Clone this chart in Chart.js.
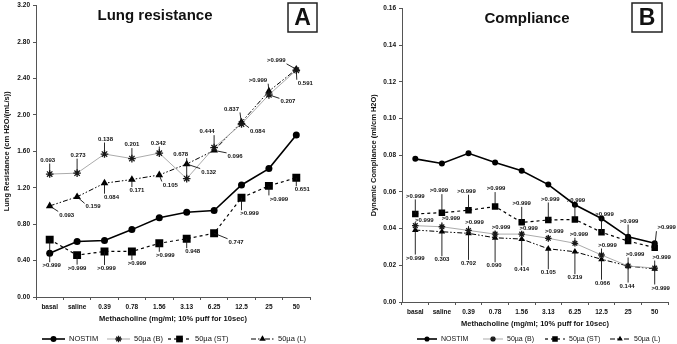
<!DOCTYPE html>
<html>
<head>
<meta charset="utf-8">
<script src="https://cdn.jsdelivr.net/npm/chart.js@4.4.1/dist/chart.umd.min.js"></script>
<style>
  html, body { margin: 0; padding: 0; background: #fff; }
  #wrap { position: relative; width: 677px; height: 344px; }
  canvas { position: absolute; top: 0; }
</style>
</head>
<body>
<div id="wrap">
  <canvas id="chartA" width="340" height="344" style="left:0"></canvas>
  <canvas id="chartB" width="337" height="344" style="left:340px"></canvas>
</div>
<script>
// Doses de méthacholine (axe X)
const doses = ["basal", "saline", "0.39", "0.78", "1.56", "3.13", "6.25", "12.5", "25", "50"];
const seriesNames = ["NOSTIM", "50µa (B)", "50µa (ST)", "50µa (L)"];

// Résistance pulmonaire (panneau A)
const resNostim = [0.48, 0.61, 0.62, 0.74, 0.87, 0.93, 0.95, 1.23, 1.41, 1.78];
const resB = [1.35, 1.36, 1.57, 1.52, 1.58, 1.30, 1.64, 1.90, 2.22, 2.49];
const resST = [0.63, 0.46, 0.50, 0.50, 0.59, 0.64, 0.70, 1.09, 1.22, 1.31];
const resL = [1.00, 1.10, 1.25, 1.29, 1.34, 1.46, 1.61, 1.92, 2.26, 2.50];

// Compliance dynamique (panneau B)
const compNostim = [0.078, 0.0755, 0.081, 0.076, 0.0715, 0.064, 0.053, 0.0455, 0.0355, 0.032];
const compB = [0.0416, 0.041, 0.039, 0.037, 0.037, 0.0347, 0.032, 0.0256, 0.0196, 0.0185];
const compST = [0.048, 0.0487, 0.050, 0.052, 0.0434, 0.0447, 0.045, 0.038, 0.0332, 0.0296];
const compL = [0.0392, 0.0383, 0.0374, 0.035, 0.0343, 0.029, 0.0274, 0.0233, 0.0196, 0.018];

// Valeurs p affichées à côté des points
const pResB = ["0.093", "0.273", "0.138", "0.201", "0.342", "0.678", "0.444", "0.837", "0.207", "0.591"];
const pResST = [">0.999", ">0.999", ">0.999", ">0.999", ">0.999", "0.948", "0.747", ">0.999", ">0.999", "0.651"];
const pResL = ["0.093", "0.159", "0.084", "0.171", "0.105", "0.132", "0.096", "0.084", ">0.999", ">0.999"];
const pCompB = [">0.999", ">0.999", ">0.999", ">0.999", ">0.999", ">0.999", ">0.999", ">0.999", ">0.999", ">0.999"];
const pCompST = [">0.999", ">0.999", ">0.999", ">0.999", ">0.999", ">0.999", ">0.999", ">0.999", ">0.999", ">0.999"];
const pCompL = [">0.999", "0.303", "0.702", "0.090", "0.414", "0.105", "0.219", "0.066", "0.144", ">0.999"];

// Décalages (px) des étiquettes par rapport aux points
const offResB = [[-2, -14], [1, -18], [1, -15], [0, -14], [-1, -10], [-6, -24], [-7, -16], [-10, -15], [19, 7], [9, 13]];
const offResST = [[2, 26], [0, 13], [2, 17], [5, 12], [6, 12], [6, 13], [22, 9], [8, 16], [10, 13], [6, 12]];
const offResL = [[17, 9], [16, 10], [7, 14], [5, 11], [11, 10], [22, 8], [21, 6], [16, 9], [-11, -11], [-20, -9]];
const offCompB = [[9, -5], [9, -8], [6, -8], [6, -7], [7, -6], [6, -7], [4, -9], [6, -10], [7, -12], [7, -11]];
const offCompST = [[0, -18], [-3, -22], [-2, -19], [1, -18], [0, -19], [2, -21], [1, -19], [3, -18], [1, -20], [12, -20]];
const offCompL = [[0, 28], [0, 28], [0, 30], [-1, 28], [0, 30], [0, 24], [0, 26], [1, 24], [-1, 20], [6, 19]];

const FONT = "'Liberation Sans', Arial, sans-serif";

// Styles des séries
const makeDatasets = (values, big) => [
  {
    label: seriesNames[0], data: values[0],
    borderColor: "#000", backgroundColor: "#000", borderWidth: 1.6,
    pointStyle: "circle", pointRadius: big ? 3.5 : 3, pointBorderWidth: 0,
  },
  {
    label: seriesNames[1], data: values[1],
    borderColor: "#ababab", backgroundColor: "#222", borderWidth: 1,
    pointStyle: "star", pointRadius: big ? 3.8 : 3.3, pointBorderColor: "#1a1a1a", pointBorderWidth: 1.3,
  },
  {
    label: seriesNames[2], data: values[2],
    borderColor: "#000", backgroundColor: "#000", borderWidth: 1.2, borderDash: [3, 3],
    pointStyle: "rect", pointRadius: big ? 5.6 : 4.6, pointBorderWidth: 0,
  },
  {
    label: seriesNames[3], data: values[3],
    borderColor: "#000", backgroundColor: "#000", borderWidth: 1, borderDash: [5, 2, 1.5, 2, 1.5, 2],
    pointStyle: "triangle", pointRadius: big ? 4.4 : 3.8, pointBorderWidth: 0,
  },
];

// Étiquettes de valeurs p avec traits de rappel
const pValuePlugin = {
  id: "pvals",
  afterDatasetsDraw(chart, args, opts) {
    const ctx = chart.ctx;
    ctx.save();
    ctx.font = "bold 6px " + FONT;
    ctx.textAlign = "center";
    ctx.textBaseline = "middle";
    opts.sets.forEach((set) => {
      const meta = chart.getDatasetMeta(set.ds);
      meta.data.forEach((pt, i) => {
        const cx = pt.x + set.offsets[i][0];
        const cy = pt.y + set.offsets[i][1];
        const w = ctx.measureText(set.labels[i]).width;
        const x0 = cx - w / 2 - 1, x1 = cx + w / 2 + 1, y0 = cy - 3.5, y1 = cy + 3.5;
        const ex = Math.min(Math.max(pt.x, x0), x1);
        const ey = Math.min(Math.max(pt.y, y0), y1);
        if (Math.hypot(ex - pt.x, ey - pt.y) > 2) {
          ctx.strokeStyle = "#111";
          ctx.lineWidth = 0.9;
          ctx.beginPath();
          ctx.moveTo(pt.x, pt.y);
          ctx.lineTo(ex, ey);
          ctx.stroke();
        }
        ctx.fillStyle = "#111";
        ctx.fillText(set.labels[i], cx, cy);
      });
    });
    ctx.restore();
  },
};

// Titre du panneau, lettre encadrée et légende ligne + marqueur
const panelPlugin = {
  id: "panel",
  afterDraw(chart, args, opts) {
    const ctx = chart.ctx;
    ctx.save();
    ctx.fillStyle = "#111";
    ctx.textAlign = "center";
    ctx.textBaseline = "middle";
    ctx.font = "bold 15px " + FONT;
    ctx.fillText(opts.title, opts.titlePos[0], opts.titlePos[1]);

    const [bx, by, bw, bh] = opts.box;
    ctx.strokeStyle = "#222";
    ctx.lineWidth = 1.5;
    ctx.strokeRect(bx, by, bw, bh);
    ctx.font = "bold 23px " + FONT;
    ctx.fillText(opts.letter, bx + bw / 2, by + bh / 2 + 1);

    ctx.font = opts.legendFont + "px " + FONT;
    ctx.textAlign = "left";
    chart.data.datasets.forEach((ds, i) => {
      const x = opts.legendStarts[i];
      const y = opts.legendY;
      ctx.strokeStyle = ds.borderColor;
      ctx.lineWidth = ds.borderWidth;
      ctx.setLineDash(ds.borderDash || []);
      ctx.beginPath();
      ctx.moveTo(x, y);
      ctx.lineTo(x + opts.legendLine, y);
      ctx.stroke();
      ctx.setLineDash([]);
      ctx.fillStyle = ds.backgroundColor;
      ctx.strokeStyle = ds.pointBorderColor || ds.backgroundColor;
      ctx.lineWidth = ds.pointBorderWidth;
      Chart.helpers.drawPoint(ctx, {
        pointStyle: ds.pointStyle, radius: ds.pointRadius * 0.85, rotation: 0, borderWidth: ds.pointBorderWidth,
      }, x + opts.legendLine / 2, y);
      ctx.fillStyle = "#111";
      ctx.fillText(ds.label, x + opts.legendLine + 4, y);
    });
    ctx.restore();
  },
};

const buildChart = (canvasId, cfg) => {
  new Chart(document.getElementById(canvasId), {
    type: "line",
    data: { labels: doses, datasets: makeDatasets(cfg.values, cfg.big) },
    plugins: [pValuePlugin, panelPlugin],
    options: {
      responsive: false,
      animation: false,
      layout: { padding: cfg.padding },
      elements: { line: { tension: 0 } },
      plugins: {
        legend: { display: false },
        tooltip: { enabled: false },
        pvals: { sets: cfg.pSets },
        panel: cfg.panel,
      },
      scales: {
        x: {
          offset: true,
          grid: { offset: true, drawOnChartArea: false, tickLength: 3, color: "#555" },
          border: { color: "#555", width: 1 },
          ticks: { color: "#111", font: { family: FONT, size: 6.5, weight: "bold" }, padding: 3, maxRotation: 0 },
          title: {
            display: true, text: "Methacholine (mg/ml; 10% puff for 10sec)", color: "#111",
            font: { family: FONT, size: 7.5, weight: "bold" }, padding: { top: 0, bottom: cfg.xTitlePad },
          },
          afterFit: (scale) => {
            scale.height = cfg.xHeight;
            scale.paddingLeft = 0;
            scale.paddingRight = 0;
          },
        },
        y: {
          min: 0,
          max: cfg.yMax,
          grid: { drawOnChartArea: false, tickLength: 3, color: "#555" },
          border: { color: "#555", width: 1 },
          ticks: {
            stepSize: cfg.yStep, padding: 3, color: "#111",
            font: { family: FONT, size: 6.5, weight: "bold" },
            callback: (v) => v.toFixed(2),
          },
          title: {
            display: true, text: cfg.yTitle, color: "#111",
            font: { family: FONT, size: 7.5, weight: "bold" }, padding: { top: 2, bottom: 0 },
          },
          afterFit: (scale) => {
            scale.width = cfg.yWidth;
            scale.paddingTop = 0;
            scale.paddingBottom = 0;
          },
        },
      },
    },
  });
};

buildChart("chartA", {
  values: [resNostim, resB, resST, resL],
  big: true,
  yMax: 3.2, yStep: 0.4,
  yTitle: "Lung Resistance (cm H2O/(mL/s))",
  yWidth: 36, xHeight: 30, xTitlePad: 4,
  padding: { left: 0, right: 30, top: 2.6, bottom: 17 },
  pSets: [
    { ds: 1, labels: pResB, offsets: offResB },
    { ds: 2, labels: pResST, offsets: offResST },
    { ds: 3, labels: pResL, offsets: offResL },
  ],
  panel: {
    title: "Lung resistance", titlePos: [155, 16], letter: "A", box: [288, 3, 29, 29],
    legendStarts: [42, 107, 168, 251], legendLine: 23, legendY: 339, legendFont: 7.5,
  },
});

buildChart("chartB", {
  values: [compNostim, compB, compST, compL],
  big: false,
  yMax: 0.16, yStep: 0.02,
  yTitle: "Dynamic Compliance (ml/cm H2O)",
  yWidth: 35, xHeight: 28, xTitlePad: 2,
  padding: { left: 27, right: 9, top: 8.4, bottom: 14 },
  pSets: [
    { ds: 1, labels: pCompB, offsets: offCompB },
    { ds: 2, labels: pCompST, offsets: offCompST },
    { ds: 3, labels: pCompL, offsets: offCompL },
  ],
  panel: {
    title: "Compliance", titlePos: [187, 19], letter: "B", box: [292, 3, 30, 29],
    legendStarts: [77, 143, 205, 270], legendLine: 20, legendY: 339, legendFont: 7,
  },
});
</script>
</body>
</html>
